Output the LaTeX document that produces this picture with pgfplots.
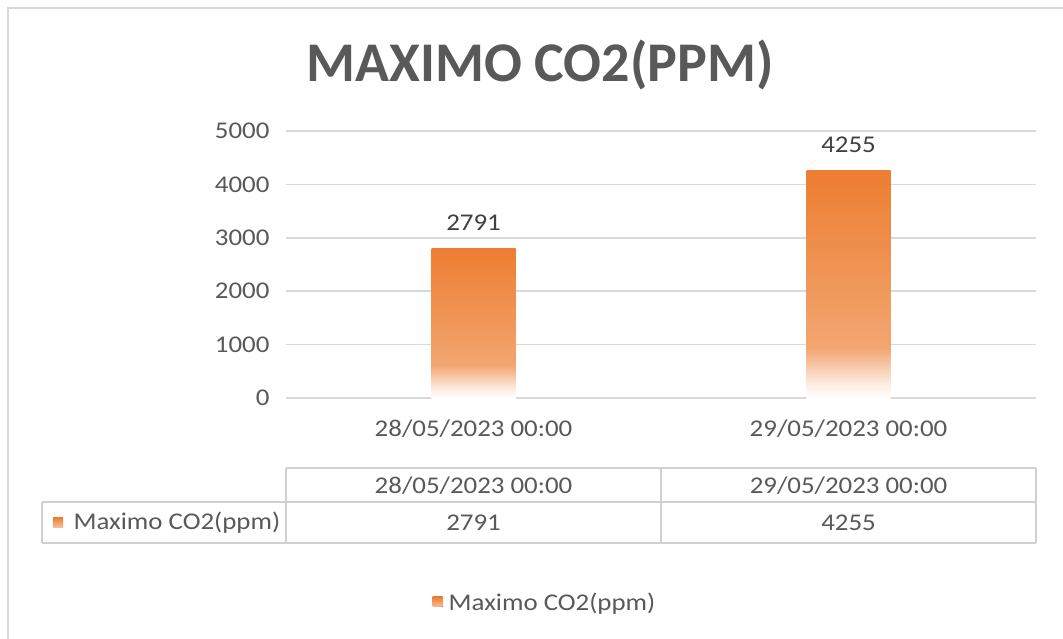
\documentclass[border=0pt]{standalone}
\usepackage{pgfplots}
\pgfplotsset{compat=1.18}
\usepackage{fontspec}
\setmainfont{Carlito}[FakeStretch=1.12]
\newfontfamily\titlefont{Carlito}
\definecolor{barorange}{HTML}{ED7D31}
\definecolor{barmid}{HTML}{F2A671}
\definecolor{gridc}{HTML}{D9D9D9}
\definecolor{tablec}{HTML}{D0D0D0}
\definecolor{txt}{HTML}{595959}
\definecolor{lbl}{HTML}{404040}
\pgfdeclareverticalshading{barshade}{100bp}{color(0bp)=(white); color(25bp)=(white); color(28bp)=(white!80!barmid); color(36bp)=(barmid); color(75bp)=(barorange); color(100bp)=(barorange)}
\begin{document}
\begin{tikzpicture}
\useasboundingbox (0pt,0pt) rectangle (1063pt,638pt);
\fill[white] (0pt,0pt) rectangle (1063pt,638pt);
\begin{scope}[x=1pt,y=1pt]
\clip (0,0) rectangle (1063,638);
\draw[gray!30, line width=1.5pt] (8,-10) -- (8,630) -- (1075,630);
\end{scope}
\node[txt, anchor=base, font=\titlefont\bfseries\fontsize{56}{60}\selectfont] at (540pt,556pt) {MAXIMO CO2(PPM)};
\begin{axis}[
  at={(286pt,240pt)}, anchor=south west,
  width=750pt, height=267pt, scale only axis,
  xmin=-0.5, xmax=1.5, ymin=0, ymax=5000,
  ytick={0,1000,2000,3000,4000,5000},
  xtick={0,1},
  xticklabels={28/05/2023 00:00, 29/05/2023 00:00},
  axis line style={draw=none},
  ymajorgrids, grid style={gridc, line width=1.5pt},
  major tick length=0pt,
  /pgf/number format/assume math mode=true,
  /pgf/number format/1000 sep={},
  tick label style={txt, font=\fontsize{24}{28}\selectfont},
  yticklabel style={xshift=-13pt},
  xticklabel style={yshift=-18pt},
  clip=false,
  bar width=84pt, bar shift=0pt,
  nodes near coords,
  every node near coord/.append style={lbl, font=\fontsize{24}{28}\selectfont, yshift=15pt},
  legend style={at={(0.348,-0.764)}, anchor=center, draw=none, fill=none,
    font=\fontsize{24}{28}\selectfont, text=txt, nodes={inner xsep=6pt}},
  legend image code/.code={\fill[top color=barorange, bottom color=barmid!70!white] (0pt,-5pt) rectangle (10pt,5pt);},
]
\addplot[ybar, bar shift=0pt, draw=none, shading=barshade] coordinates {(0,2791)};
\addlegendentry{Maximo CO2(ppm)}
\addplot[ybar, bar shift=0pt, draw=none, shading=barshade, forget plot] coordinates {(1,4255)};
\end{axis}
\begin{scope}[x=1pt,y=1pt]
\begin{scope}[tablec, line width=1.2pt]
\draw (286,170) -- (1036,170);
\draw (42,136) -- (1036,136);
\draw (42,95) -- (1036,95);
\draw (286,170) -- (286,95);
\draw (661,170) -- (661,95);
\draw (1036,170) -- (1036,95);
\draw (42,136) -- (42,95);
\end{scope}
\begin{scope}[every node/.style={txt, font=\fontsize{24}{28}\selectfont}]
\node at (473.5,152) {28/05/2023 00:00};
\node at (848.5,152) {29/05/2023 00:00};
\node at (473.5,115.5) {2791};
\node at (848.5,115.5) {4255};
\node[anchor=west] at (70,115.5) {Maximo CO2(ppm)};
\end{scope}
\fill[top color=barorange, bottom color=barmid!70!white] (53,110.5) rectangle (63,120.5);
\end{scope}
\end{tikzpicture}
\end{document}
